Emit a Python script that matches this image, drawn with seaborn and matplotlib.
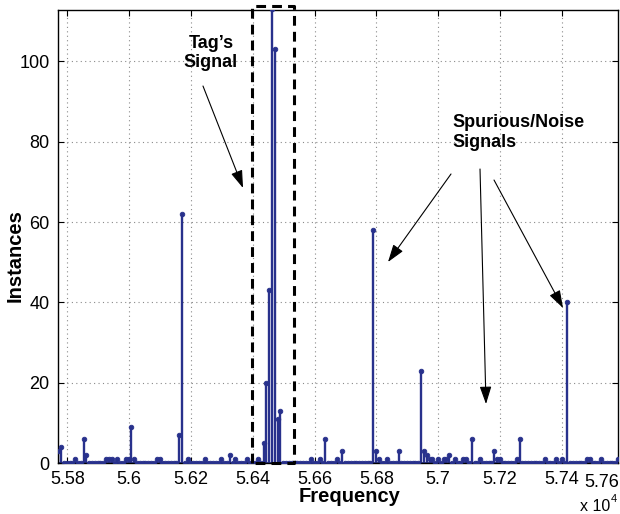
import numpy as np
import pandas as pd
import matplotlib
matplotlib.use("Agg")
import matplotlib.pyplot as plt
import seaborn as sns

# Histogram of detected frequencies (Hz): 200 bins over the observed span
bin_first = 55771.0
bin_last = 57582.0
n_bins = 200

# Non-empty bins: centre frequency (Hz) and number of instances
peak_freq = [55771, 55781, 55826, 55853, 55861, 55926, 55936, 55946, 55964, 55991,
             55998, 56008, 56020, 56090, 56098, 56163, 56173, 56190, 56246, 56300,
             56327, 56345, 56381, 56418, 56437, 56445, 56454, 56464, 56472, 56481,
             56491, 56591, 56618, 56637, 56672, 56691, 56790, 56801, 56812, 56839,
             56874, 56947, 56955, 56965, 56973, 56982, 57000, 57016, 57024, 57038,
             57057, 57083, 57093, 57111, 57138, 57183, 57194, 57203, 57256, 57265,
             57348, 57384, 57400, 57420, 57481, 57490, 57529, 57582]
peak_count = [3, 4, 1, 6, 2, 1, 1, 1, 1, 1,
              1, 9, 1, 1, 1, 7, 62, 1, 1, 1,
              2, 1, 1, 1, 5, 20, 43, 113, 103, 11,
              13, 1, 1, 6, 1, 3, 58, 3, 1, 1,
              3, 23, 3, 2, 1, 1, 1, 1, 1, 2,
              1, 1, 1, 6, 1, 3, 1, 1, 1, 6,
              1, 1, 1, 40, 1, 1, 1, 1]

# Frequency window around the tag's signal
tag_window = (56399, 56535)

x_ticks = [55800, 56000, 56200, 56400, 56600, 56800, 57000, 57200, 57400]
x_tick_labels = ["5.58", "5.6", "5.62", "5.64", "5.66", "5.68", "5.7", "5.72", "5.74"]
last_tick_label = "5.76"
y_ticks = [0, 20, 40, 60, 80, 100]
y_max = 112.8

navy = "#28318c"

# Build the full histogram on the bin grid
bin_centers = np.linspace(bin_first, bin_last, n_bins)
step = (bin_last - bin_first) / (n_bins - 1)
counts = np.zeros(n_bins)
for f, c in zip(peak_freq, peak_count):
    i = int(np.rint((f - bin_first) / step))
    counts[i] = max(counts[i], c)

# Each stem is a two-point segment from the baseline up to the count
stems = pd.DataFrame({
    "freq": np.repeat(bin_centers, 2),
    "count": np.column_stack([np.zeros(n_bins), counts]).ravel(),
    "bin": np.repeat(np.arange(n_bins), 2),
})
tops = pd.DataFrame({"freq": bin_centers, "count": counts})

sns.set_theme(style="ticks")
plt.rcParams["font.family"] = ["Liberation Sans", "DejaVu Sans"]
plt.rcParams["text.color"] = "black"
plt.rcParams["axes.labelcolor"] = "black"

fig = plt.figure(figsize=(6.2, 5.14), dpi=100)
ax = fig.add_axes([58 / 620, 51 / 514, 560 / 620, 453 / 514])

ax.grid(True, linestyle=(0, (1, 3)), color="#8a8a8a", linewidth=0.8)
ax.set_axisbelow(True)

ax.axhline(0, color=navy, linewidth=2.0, zorder=2)
sns.lineplot(data=stems, x="freq", y="count", units="bin", estimator=None,
             sort=False, color=navy, linewidth=1.7, ax=ax, zorder=2)
sns.scatterplot(data=tops, x="freq", y="count", color=navy, edgecolor=navy,
                s=11, linewidth=0.6, ax=ax, zorder=3)

# Dashed box around the tag's signal
x0, x1 = tag_window
ax.plot([x0, x0, x1, x1, x0], [0, 113.8, 113.8, 0, 0], color="black",
        linewidth=2.2, linestyle=(0, (3.2, 2.0)), clip_on=False, zorder=4)

ax.set_xlim(bin_first - 1, bin_last)
ax.set_ylim(0, y_max)
ax.set_xticks(x_ticks)
ax.set_xticklabels(x_tick_labels)
ax.set_yticks(y_ticks)
ax.tick_params(direction="in", length=4, width=0.8, top=True, right=True,
               labelsize=13, colors="black", pad=6)
for s in ax.spines.values():
    s.set_color("black")
    s.set_linewidth(1.0)

ax.set_xlabel("Frequency", fontsize=14.5, fontweight="bold", color="black")
ax.set_ylabel("Instances", fontsize=14.5, fontweight="bold", color="black")
ax.xaxis.set_label_coords(0.521, -0.052)
ax.yaxis.set_label_coords(-0.06, 0.457)

ax.text(544 / 560, -0.024, last_tick_label, transform=ax.transAxes,
        ha="center", va="top", fontsize=13, color="black")
ax.text(0.9857, -0.106, "x 10", transform=ax.transAxes, ha="right",
        va="baseline", fontsize=11.5, color="black")
ax.text(0.9875, -0.087, "4", transform=ax.transAxes, ha="left",
        va="baseline", fontsize=8, color="black")

ax.text(0.2732, 0.905, "Tag\u2019s\nSignal", transform=ax.transAxes,
        ha="center", va="center", fontsize=13, fontweight="bold",
        linespacing=1.2, color="black")
ax.text(0.7036, 0.73, "Spurious/Noise\nSignals", transform=ax.transAxes,
        ha="left", va="center", fontsize=13, fontweight="bold",
        linespacing=1.2, color="black")

arrow = dict(arrowstyle="-|>,head_length=0.9,head_width=0.3", color="black",
             linewidth=0.8, shrinkA=0, shrinkB=0)
for tail, tip in [((0.2589, 0.8322), (0.3304, 0.6071)),
                  ((0.7018, 0.6380), (0.5893, 0.4437)),
                  ((0.7536, 0.6490), (0.7643, 0.1302)),
                  ((0.7786, 0.6247), (0.9018, 0.3422))]:
    ax.annotate("", xy=tip, xytext=tail, xycoords="axes fraction",
                textcoords="axes fraction", arrowprops=arrow)

fig.savefig("out.png", dpi=100)
